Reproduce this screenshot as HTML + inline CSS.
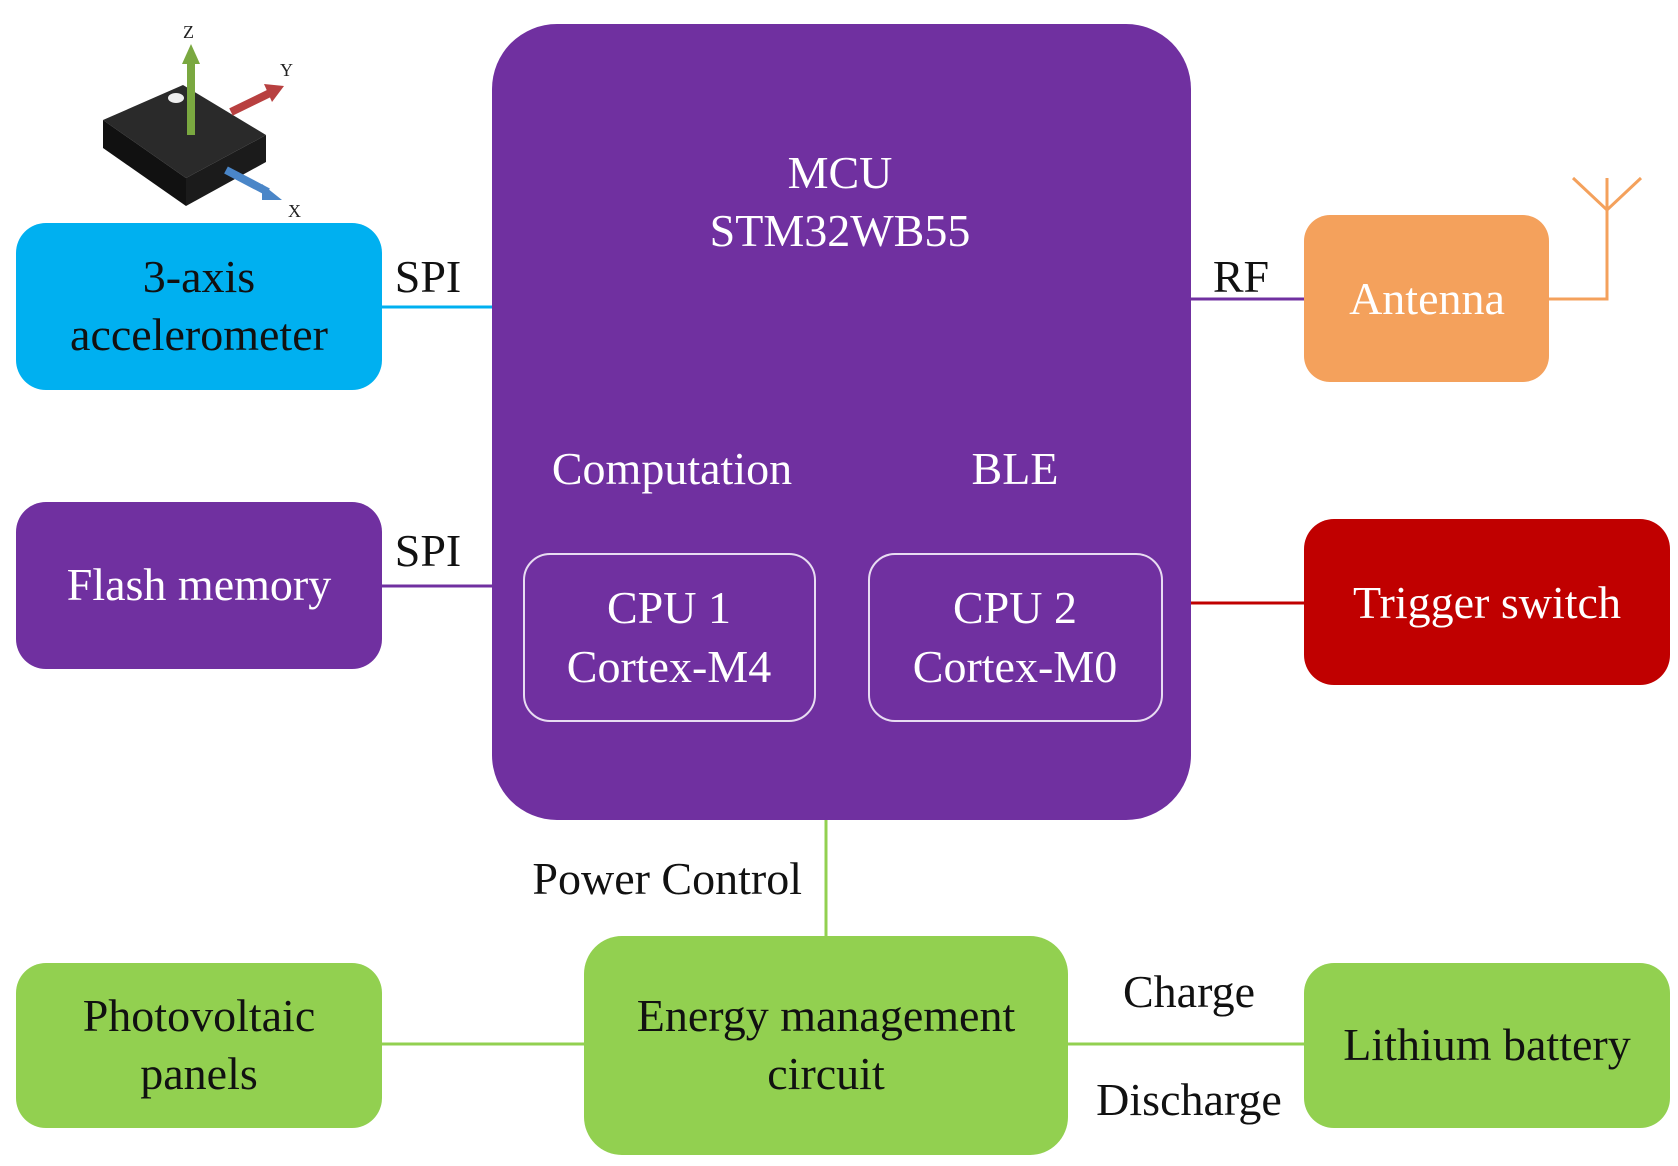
<!DOCTYPE html>
<html><head><meta charset="utf-8"><style>
body{margin:0;background:#fff;}
svg{display:block;}
text{font-family:"Liberation Serif",serif;}
</style></head><body>
<svg width="1678" height="1166" viewBox="0 0 1678 1166" xmlns="http://www.w3.org/2000/svg">
<!-- connectors -->
<line x1="382" y1="307" x2="492" y2="307" stroke="#00b0f0" stroke-width="3"/>
<line x1="382" y1="586" x2="492" y2="586" stroke="#7030a0" stroke-width="3"/>
<line x1="1191" y1="299" x2="1304" y2="299" stroke="#7030a0" stroke-width="3"/>
<line x1="1176" y1="603" x2="1304" y2="603" stroke="#c00000" stroke-width="3"/>
<line x1="826" y1="820" x2="826" y2="936" stroke="#92d050" stroke-width="3"/>
<line x1="382" y1="1044" x2="584" y2="1044" stroke="#92d050" stroke-width="3"/>
<line x1="1068" y1="1044" x2="1304" y2="1044" stroke="#92d050" stroke-width="3"/>
<polyline points="1549,299 1607,299 1607,178" fill="none" stroke="#f4a15c" stroke-width="3"/>
<polyline points="1573,178 1607,210 1641,178" fill="none" stroke="#f4a15c" stroke-width="3"/>
<!-- boxes -->
<rect x="16" y="223" width="366" height="167" rx="30" fill="#00b0f0"/>
<rect x="16" y="502" width="366" height="167" rx="30" fill="#7030a0"/>
<rect x="492" y="24" width="699" height="796" rx="65" fill="#7030a0"/>
<rect x="524" y="554" width="291" height="167" rx="26" fill="none" stroke="#e8dcf2" stroke-width="2"/>
<rect x="869" y="554" width="293" height="167" rx="26" fill="none" stroke="#e8dcf2" stroke-width="2"/>
<rect x="1304" y="215" width="245" height="167" rx="26" fill="#f4a15c"/>
<rect x="1304" y="519" width="366" height="166" rx="30" fill="#c00000"/>
<rect x="16" y="963" width="366" height="165" rx="30" fill="#92d050"/>
<rect x="584" y="936" width="484" height="219" rx="38" fill="#92d050"/>
<rect x="1304" y="963" width="366" height="165" rx="30" fill="#92d050"/>
<!-- sensor icon -->
<polygon points="103,120 183,85 266,135 186,178" fill="#2a2a2a"/>
<polygon points="103,120 186,178 186,206 103,148" fill="#111"/>
<polygon points="186,178 266,135 266,162 186,206" fill="#1b1b1b"/>
<ellipse cx="176" cy="98" rx="8" ry="5" fill="#eee"/>
<line x1="231" y1="112" x2="272" y2="92" stroke="#b84040" stroke-width="8"/>
<polygon points="264,84 284,86 272,102" fill="#b84040"/>
<line x1="226" y1="170" x2="268" y2="192" stroke="#4a86c8" stroke-width="8"/>
<polygon points="262,184 282,200 262,200" fill="#4a86c8"/>
<line x1="191" y1="135" x2="191" y2="60" stroke="#7aa840" stroke-width="8"/>
<polygon points="182,64 191,44 200,64" fill="#7aa840"/>
<g font-family="Liberation Sans,sans-serif" font-size="18" fill="#222"><text x="183" y="38" font-family="Liberation Sans,sans-serif">Z</text><text x="280" y="76" font-family="Liberation Sans,sans-serif">Y</text><text x="288" y="217" font-family="Liberation Sans,sans-serif">X</text></g>
<!-- texts -->
<g font-size="46" text-anchor="middle">
<text x="199" y="292" fill="#111">3-axis</text>
<text x="199" y="350" fill="#111">accelerometer</text>
<text x="199" y="600" fill="#fff">Flash memory</text>
<text x="840" y="188" fill="#fff">MCU</text>
<text x="840" y="246" fill="#fff">STM32WB55</text>
<text x="672" y="484" fill="#fff">Computation</text>
<text x="1015" y="484" fill="#fff">BLE</text>
<text x="669" y="623" fill="#fff">CPU 1</text>
<text x="669" y="682" fill="#fff">Cortex-M4</text>
<text x="1015" y="623" fill="#fff">CPU 2</text>
<text x="1015" y="682" fill="#fff">Cortex-M0</text>
<text x="1427" y="314" fill="#fff">Antenna</text>
<text x="1487" y="618" fill="#fff">Trigger switch</text>
<text x="199" y="1031" fill="#111">Photovoltaic</text>
<text x="199" y="1089" fill="#111">panels</text>
<text x="826" y="1031" fill="#111">Energy management</text>
<text x="826" y="1089" fill="#111">circuit</text>
<text x="1487" y="1060" fill="#111">Lithium battery</text>
<text x="428" y="292" fill="#111">SPI</text>
<text x="428" y="566" fill="#111">SPI</text>
<text x="1241" y="292" fill="#111">RF</text>
<text x="1189" y="1007" fill="#111">Charge</text>
<text x="1189" y="1115" fill="#111">Discharge</text>
<text x="802" y="894" fill="#111" text-anchor="end">Power Control</text>
</g>
</svg>
</body></html>
